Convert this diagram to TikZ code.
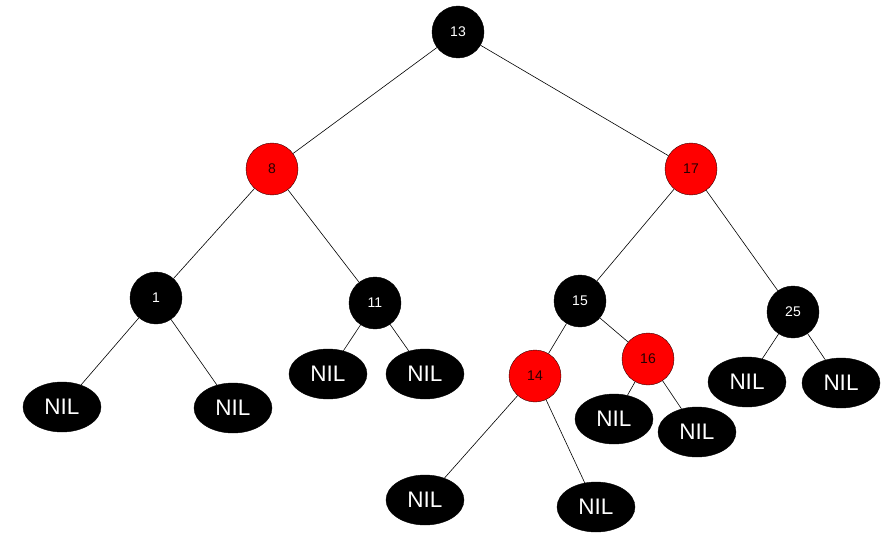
\documentclass[tikz,border=0pt]{standalone}
\usepackage{fontspec}
\setmainfont{Liberation Sans}
\usetikzlibrary{shapes.geometric}
\definecolor{rbred}{RGB}{255,0,0}
\tikzset{
  blk/.style={circle, fill=black, draw=black, minimum size=52pt, inner sep=0pt, text=white, font=\fontsize{14}{14}\selectfont},
  rd/.style={circle, fill=rbred, draw=black!80!red, minimum size=52pt, inner sep=0pt, text=black!85!red, font=\fontsize{14}{14}\selectfont},
  nil/.style={ellipse, fill=black, draw=black, minimum width=78pt, minimum height=50pt, inner sep=0pt, text=white, font=\fontsize{22.5}{22.5}\selectfont},
  edge/.style={draw=black, line width=0.6pt}
}
\begin{document}
\begin{tikzpicture}[x=1pt,y=-1pt]
\useasboundingbox (0,0) rectangle (892,543);
\node[blk] (n13) at (458,32) {13};
\node[rd] (n8) at (272,169) {8};
\node[rd] (n17) at (691,169) {17};
\node[blk] (n1) at (156,298) {1};
\node[blk] (n11) at (375,303) {11};
\node[blk] (n15) at (580,301) {15};
\node[blk] (n25) at (793,312) {25};
\node[rd] (n14) at (535,376) {14};
\node[rd] (n16) at (648,359) {16};
\node[nil] (a1) at (62,407) {NIL};
\node[nil] (a2) at (233,408) {NIL};
\node[nil] (b1) at (328,374) {NIL};
\node[nil] (b2) at (425,374) {NIL};
\node[nil] (c1) at (425,500) {NIL};
\node[nil] (c2) at (596,507) {NIL};
\node[nil] (d1) at (614,419) {NIL};
\node[nil] (d2) at (697,432) {NIL};
\node[nil] (e1) at (747,382) {NIL};
\node[nil] (e2) at (841,383) {NIL};
\draw[edge] (n13) -- (n8);
\draw[edge] (n13) -- (n17);
\draw[edge] (n8) -- (n1);
\draw[edge] (n8) -- (n11);
\draw[edge] (n17) -- (n15);
\draw[edge] (n17) -- (n25);
\draw[edge] (n1) -- (a1);
\draw[edge] (n1) -- (a2);
\draw[edge] (n11) -- (b1);
\draw[edge] (n11) -- (b2);
\draw[edge] (n15) -- (n14);
\draw[edge] (n15) -- (n16);
\draw[edge] (n14) -- (c1);
\draw[edge] (n14) -- (c2);
\draw[edge] (n16) -- (d1);
\draw[edge] (n16) -- (d2);
\draw[edge] (n25) -- (e1);
\draw[edge] (n25) -- (e2);
\end{tikzpicture}
\end{document}
